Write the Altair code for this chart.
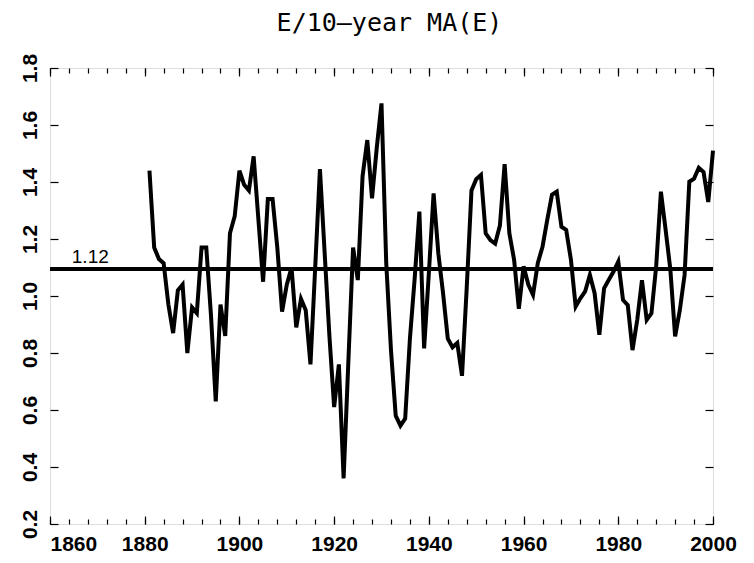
import altair as alt
import pandas as pd

# ---- data ----
years = list(range(1881, 2001))
ratio = [
    1.44, 1.17, 1.13, 1.115, 0.97, 0.87, 1.02, 1.04, 0.80, 0.96,   # 1881-1890
    0.94, 1.17, 1.17, 0.93, 0.63, 0.97, 0.86, 1.22, 1.28, 1.44,    # 1891-1900
    1.39, 1.37, 1.49, 1.27, 1.05, 1.34, 1.34, 1.17, 0.945, 1.04,   # 1901-1910
    1.10, 0.89, 0.99, 0.95, 0.76, 1.10, 1.445, 1.15, 0.86, 0.61,   # 1911-1920
    0.76, 0.36, 0.77, 1.17, 1.056, 1.42, 1.547, 1.343, 1.52, 1.676,  # 1921-1930
    1.115, 0.81, 0.58, 0.545, 0.57, 0.85, 1.06, 1.296, 0.816, 1.08,  # 1931-1940
    1.36, 1.15, 1.01, 0.85, 0.82, 0.835, 0.72, 1.03, 1.37, 1.41,   # 1941-1950
    1.425, 1.22, 1.196, 1.184, 1.247, 1.463, 1.22, 1.127, 0.955, 1.104,  # 1951-1960
    1.04, 1.004, 1.115, 1.173, 1.267, 1.355, 1.366, 1.243, 1.232, 1.127,  # 1961-1970
    0.963, 0.992, 1.016, 1.074, 1.01, 0.864, 1.027, 1.057, 1.086, 1.121,  # 1971-1980
    0.986, 0.968, 0.81, 0.916, 1.055, 0.916, 0.939, 1.104, 1.366, 1.232,  # 1981-1990
    1.092, 0.858, 0.951, 1.074, 1.401, 1.412, 1.45, 1.435, 1.33, 1.51,    # 1991-2000
]
ref_value = 1.095
ref_label = "1.12"
ref_label_year = 1864.6
x_major = [1860, 1880, 1900, 1920, 1940, 1960, 1980, 2000]
x_minor = list(range(1860, 2001, 4))
y_major = [0.2, 0.4, 0.6, 0.8, 1.0, 1.2, 1.4, 1.6, 1.8]
title_text = ["E/10–year MA(E)"]

df = pd.DataFrame({"year": years, "ratio": ratio})
ref_df = pd.DataFrame({"year": [ref_label_year], "ratio": [ref_value], "label": [ref_label]})
title_df = pd.DataFrame({"t": title_text})

W, H = 663, 456
FONT = "Liberation Sans"
xscale = alt.Scale(domain=[1860, 2000], nice=False, zero=False)
yscale = alt.Scale(domain=[0.2, 1.8], nice=False, zero=False)


def tick_axis(orient, values, size, **kw):
    return alt.Axis(orient=orient, values=values, tickSize=size, offset=-size,
                    domain=False, grid=False, ticks=True, tickColor="black",
                    tickWidth=1.2, title=None, **kw)


x_lab = tick_axis("bottom", x_major, 8, labels=True, format="d", labelFont=FONT,
                  labelFontSize=21, labelFontWeight="bold", labelColor="black",
                  labelPadding=9, labelFlush=False, labelOverlap=False, labelBound=False,
                  labelAlign={"condition": {"test": "datum.value == 1860", "value": "left"},
                              "value": "center"})
y_lab = tick_axis("left", y_major, 8, labels=True, format=".1f", labelFont=FONT,
                  labelFontSize=21, labelFontWeight="bold", labelColor="black",
                  labelPadding=10, labelAngle=-90, labelAlign="center",
                  labelBaseline="bottom", labelFlush=False, labelOverlap=False,
                  labelBound=False)

line_a = alt.Chart(df).mark_line(color="black", strokeWidth=4).encode(
    x=alt.X("year:Q", scale=xscale, axis=x_lab),
    y=alt.Y("ratio:Q", scale=yscale, axis=y_lab),
)
line_b = alt.Chart(df).mark_line(opacity=0).encode(
    x=alt.X("year:Q", scale=xscale, axis=tick_axis("bottom", x_minor, 5, labels=False)),
    y=alt.Y("ratio:Q", scale=yscale, axis=tick_axis("right", y_major, 8, labels=False)),
)
line_c = alt.Chart(df).mark_line(opacity=0).encode(
    x=alt.X("year:Q", scale=xscale, axis=tick_axis("top", x_major, 8, labels=False)),
    y=alt.Y("ratio:Q", scale=yscale, axis=None),
)
line_d = alt.Chart(df).mark_line(opacity=0).encode(
    x=alt.X("year:Q", scale=xscale, axis=tick_axis("top", x_minor, 5, labels=False)),
    y=alt.Y("ratio:Q", scale=yscale, axis=None),
)
ref_rule = alt.Chart(ref_df).mark_rule(color="black", strokeWidth=4).encode(
    y=alt.Y("ratio:Q", scale=yscale, axis=None),
)
ref_text = alt.Chart(ref_df).mark_text(
    font=FONT, fontSize=19, color="black", align="left", baseline="alphabetic", dy=-6
).encode(
    x=alt.X("year:Q", scale=xscale, axis=None),
    y=alt.Y("ratio:Q", scale=yscale, axis=None),
    text="label:N",
)
title_mark = alt.Chart(title_df).mark_text(
    font="DejaVu Sans Mono", fontSize=25, color="black",
    align="center", baseline="alphabetic"
).encode(
    x=alt.value(W / 2 + 8),
    y=alt.value(-37),
    text="t:N",
)

chart = alt.layer(line_a, line_b, line_c, line_d, ref_rule, ref_text, title_mark).resolve_axis(
    x="independent", y="independent"
).properties(
    width=W, height=H,
    autosize=alt.AutoSizeParams(type="none"),
    padding={"left": 42, "top": 60, "right": 28, "bottom": 36},
).configure_view(stroke="black", strokeWidth=3).configure(background="white")

chart.save("out.html", embed_options={"renderer": "svg", "actions": False})
